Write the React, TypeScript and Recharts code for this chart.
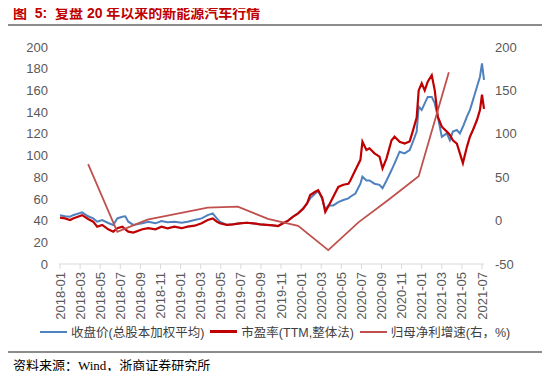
import { ComposedChart, Line, XAxis, YAxis } from "recharts";

// months since 2018-01
const t = [
  0, 0.5, 1.0, 1.3, 2.2, 2.8, 3.3, 3.7, 4.2, 4.8, 5.3, 5.7, 6.2, 6.5, 6.8, 7.3, 8.2, 8.8, 9.5, 10.1,
  10.7, 11.4, 12.1, 12.7, 13.4, 14.1, 14.7, 15.2, 15.6, 15.9, 16.6, 17.2, 17.9, 18.6, 19.2, 19.9,
  20.6, 21.2, 21.7, 22.2, 22.7, 23.2, 23.7, 24.2, 24.6, 24.9, 25.4, 25.7, 26.1, 26.4, 26.7, 27.2,
  27.7, 28.2, 28.7, 28.9, 29.4, 29.9, 30.1, 30.5, 30.8, 31.3, 31.8, 32.1, 32.5, 33.0, 33.3, 33.8,
  34.3, 34.8, 35.1, 35.5, 35.7, 36.0, 36.3, 36.6, 37.0, 37.3, 37.6, 38.0, 38.5, 38.8, 39.1, 39.5,
  39.8, 40.1, 40.5, 40.8, 41.1, 41.5, 41.8, 42.0, 42.2,
];

// 收盘价(总股本加权平均)
const closePrice = [
  45, 44, 43.6, 45, 47.6, 44, 42, 39, 40.5, 37.8, 36, 42, 43.6, 44, 39, 36, 37.5, 39, 37.5, 39.6,
  38.4, 39, 38, 39, 40.5, 42, 45, 46.7, 42, 39, 36, 36.6, 37.5, 38, 37.5, 36.6,
  36, 35.6, 35, 37.5, 40, 43.6, 46.7, 51, 56, 60.5, 65, 67, 60, 50, 54, 54,
  57, 59, 60.5, 62, 65, 74, 80.5, 77, 77, 74, 73, 69.8, 77, 86.6, 92.8, 103.5,
  102, 105, 112, 122, 145, 142, 148, 154, 154, 148, 135.8, 117.3, 120.4, 114, 122, 123.5,
  120.4, 126.5, 135.8, 142, 151, 163.4, 172.6, 185, 169.6,
];

// 市盈率(TTM,整体法)
const peRatio = [
  42.7, 42, 40.5, 42, 45, 41.5, 39, 34.4, 36, 32, 29.8, 33, 34.4, 32, 29.8, 29, 32, 33, 32, 34.4,
  32.9, 34.4, 33, 34.4, 35.3, 37.5, 40.5, 42, 39, 37.5, 36, 36.6, 37.5, 38, 37.5, 36.6,
  36, 35.6, 35, 37.5, 40, 43.6, 46.7, 51, 56, 63.6, 66.6, 68, 61, 48, 53, 62,
  71, 73, 74, 77, 86.6, 96, 112.7, 105, 106.6, 102, 99, 88, 97.4, 114, 117.3, 112.7,
  111, 113, 122, 135, 160, 166.5, 160, 168, 174, 160, 135.8, 126.5, 122, 119, 114, 111,
  102, 93, 108, 117.3, 123.5, 132.7, 142, 156, 143,
];

// 归母净利增速(右，%) - quarterly
const growthT = [2.8, 5.7, 8.7, 11.7, 14.7, 17.7, 20.7, 23.7, 26.7, 29.7, 32.7, 35.7, 38.7];
const growthPct = [65, -13, 1, 8, 15, 16, 2, -6, -34, -2, 24, 51, 171];

const xTicks = Array.from({ length: 22 }, (_, i) => i * 2);
const leftTicks = [0, 20, 40, 60, 80, 100, 120, 140, 160, 180, 200];
const rightTicks = [-50, 0, 50, 100, 150, 200];

const priceData = t.map((m, i) => ({ t: m, close: closePrice[i], pe: peRatio[i] }));
const growthData = growthT.map((m, i) => ({ t: m, growth: growthPct[i] }));

const tickFont = { fontSize: 13, fill: "#595959", fontFamily: "'Liberation Sans', Arial, sans-serif" };

function monthLabel(m: number) {
  const y = 2018 + Math.floor(m / 12);
  const mo = (m % 12) + 1;
  return `${y}-${mo < 10 ? "0" + mo : mo}`;
}

function DateTick({ x, y, payload }: any) {
  return (
    <text
      x={x}
      y={y}
      transform={`rotate(-90, ${x}, ${y})`}
      textAnchor="end"
      dy="0.35em"
      {...tickFont}
    >
      {monthLabel(payload.value)}
    </text>
  );
}

const legendItems = [
  { label: "收盘价(总股本加权平均)", color: "#4f81bd", w: 2 },
  { label: "市盈率(TTM,整体法)", color: "#c00000", w: 2.5 },
  { label: "归母净利增速(右，%)", color: "#c0504d", w: 2 },
];

export default function App() {
  return (
    <div
      style={{
        position: "relative",
        width: 550,
        height: 379,
        margin: -8,
        background: "#fff",
        overflow: "hidden",
        fontFamily: "'Liberation Sans', 'Noto Sans CJK SC', sans-serif",
      }}
    >
      <div
        style={{
          position: "absolute",
          left: 13,
          top: 5,
          fontSize: 14,
          fontWeight: "bold",
          color: "#c00000",
          lineHeight: "17px",
          whiteSpace: "pre",
        }}
      >
        {"图  5:  复盘 20 年以来的新能源汽车行情"}
      </div>
      <div style={{ position: "absolute", left: 5, top: 24, width: 540, height: 2, background: "#8c8c8c" }} />

      <div style={{ position: "absolute", left: 0, top: 0 }}>
        <ComposedChart width={550} height={330} margin={{ top: 47, right: 10, bottom: 0, left: 9 }}>
          <XAxis
            dataKey="t"
            type="number"
            domain={[-0.1, 42.2]}
            ticks={xTicks}
            interval={0}
            height={66}
            tickSize={5}
            tickMargin={3}
            axisLine={{ stroke: "#d9d9d9" }}
            tickLine={{ stroke: "#d9d9d9" }}
            tick={<DateTick />}
            allowDuplicatedCategory={false}
          />
          <YAxis
            yAxisId="left"
            domain={[0, 200]}
            ticks={leftTicks}
            interval={0}
            width={50}
            axisLine={false}
            tickLine={false}
            tickMargin={5}
            tick={tickFont}
          />
          <YAxis
            yAxisId="right"
            orientation="right"
            domain={[-50, 200]}
            ticks={rightTicks}
            interval={0}
            width={56}
            axisLine={false}
            tickLine={false}
            tickMargin={5}
            tick={{ ...tickFont, textAnchor: "start" }}
          />
          <Line
            yAxisId="left"
            data={priceData}
            dataKey="close"
            stroke="#4f81bd"
            strokeWidth={2}
            dot={false}
            type="linear"
            isAnimationActive={false}
          />
          <Line
            yAxisId="left"
            data={priceData}
            dataKey="pe"
            stroke="#c00000"
            strokeWidth={2.2}
            dot={false}
            type="linear"
            isAnimationActive={false}
          />
          <Line
            yAxisId="right"
            data={growthData}
            dataKey="growth"
            stroke="#c0504d"
            strokeWidth={1.8}
            dot={false}
            type="linear"
            isAnimationActive={false}
          />
        </ComposedChart>
      </div>

      <div
        style={{
          position: "absolute",
          left: 40,
          top: 322,
          display: "flex",
          alignItems: "center",
          fontSize: 12.5,
          color: "#404040",
          whiteSpace: "nowrap",
          fontFamily: "'Liberation Sans', 'Noto Sans CJK SC', sans-serif",
        }}
      >
        {legendItems.map((it, i) => (
          <div key={i} style={{ display: "flex", alignItems: "center", marginRight: 6 }}>
            <span style={{ display: "inline-block", width: 27, height: it.w, background: it.color, marginRight: 4 }} />
            <span>{it.label}</span>
          </div>
        ))}
      </div>

      <div style={{ position: "absolute", left: 5, top: 351, width: 540, height: 2, background: "#8c8c8c" }} />
      <div
        style={{
          position: "absolute",
          left: 13,
          top: 358,
          fontSize: 13,
          lineHeight: "16px",
          color: "#000",
          whiteSpace: "nowrap",
          fontFamily: "'Liberation Serif', 'Noto Sans CJK SC', serif",
        }}
      >
        资料来源：Wind，浙商证券研究所
      </div>
    </div>
  );
}
